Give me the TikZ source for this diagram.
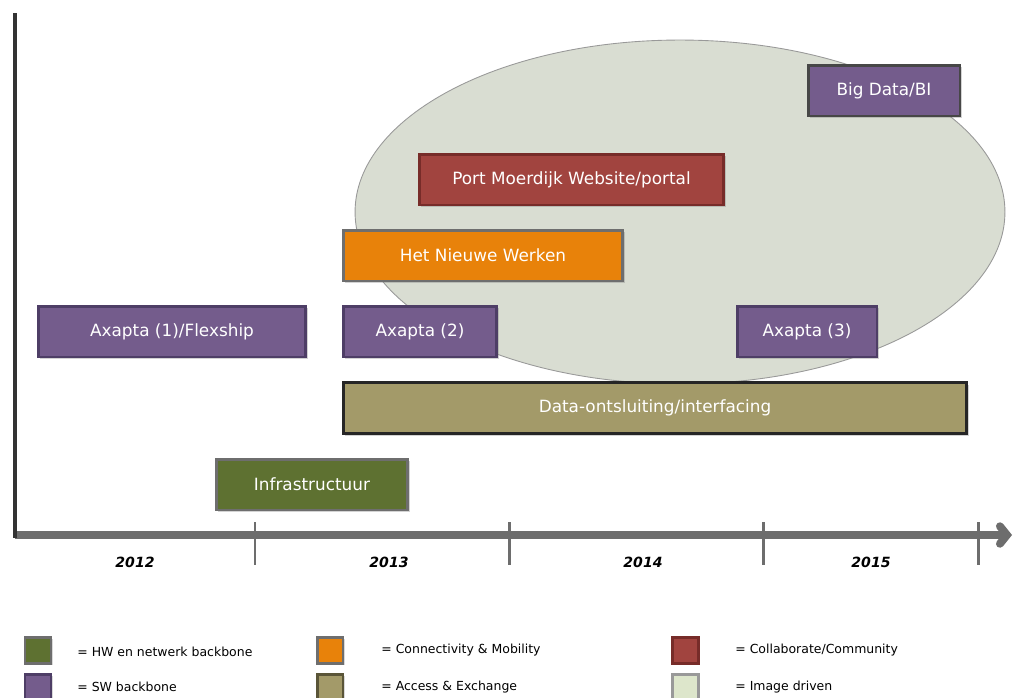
\documentclass[tikz,border=0pt]{standalone}
\usepackage{fontspec}
\setmainfont{DejaVu Sans}
\usepackage{xcolor}
\usepackage{tikz}
\usetikzlibrary{arrows.meta,shadows}
\definecolor{axisdark}{HTML}{333333}
\definecolor{axisgray}{HTML}{6D6D6D}
\definecolor{swfill}{HTML}{745C8C}
\definecolor{swline}{HTML}{4E3E66}
\definecolor{hwfill}{HTML}{5E7131}
\definecolor{conn}{HTML}{E8820A}
\definecolor{collfill}{HTML}{A1443F}
\definecolor{collline}{HTML}{772C29}
\definecolor{accfill}{HTML}{A39A69}
\definecolor{accline}{HTML}{5A5538}
\definecolor{imgfill}{HTML}{DDE6CB}
\definecolor{cloud}{HTML}{D9DDD2}
\definecolor{greyline}{HTML}{6E6E6E}
\tikzset{
  box/.style={rectangle, line width=1.7pt, minimum height=1.02cm, text=white,
    font=\fontsize{9.6}{11}\selectfont,
    drop shadow={shadow xshift=1.2pt, shadow yshift=-1.2pt, opacity=0.35}},
  swbox/.style={box, fill=swfill, draw=swline},
  hwbox/.style={box, fill=hwfill, draw=greyline},
  connbox/.style={box, fill=conn, draw=greyline},
  collbox/.style={box, fill=collfill, draw=collline},
  accbox/.style={box, fill=accfill, draw=black!85},
  key/.style={rectangle, line width=1.7pt, minimum size=0.52cm,
    drop shadow={shadow xshift=1pt, shadow yshift=-1pt, opacity=0.3}},
  keylab/.style={anchor=west, inner sep=0pt, font=\fontsize{7.1}{9}\selectfont},
  year/.style={font=\fontsize{8}{10}\selectfont\bfseries\itshape},
  tickmark/.style={draw=axisgray, line width=1.7pt},
}

\begin{document}
\begin{tikzpicture}[x=0.02cm, y=-0.02cm]
  \useasboundingbox (0,0) rectangle (1017,697);
  % image driven area
  \draw[fill=cloud, draw=gray!80, line width=0.5pt] (680,212) ellipse (6.5cm and 3.44cm);

  % axes
  \coordinate (orig) at (15,535);
  \coordinate (ytop) at (15,13);
  \coordinate (ybot) at (15,538);
  \coordinate (xend) at (1012,535);
  \draw[axisgray, line width=4.5pt, -{Straight Barb[length=4pt,width=10pt,line cap=round]}] (orig) -- (xend);
  \draw[axisdark, line width=2.8pt] (ytop) -- (ybot);
  \foreach \x in {255,509,763,978}
    \draw[tickmark] (\x,522) -- (\x,565);
  \foreach \x/\yr in {135/2012,389/2013,643/2014,871/2015}
    \node[year] (y\yr) at (\x,562) {\yr};

  % projects
  \node[swbox, minimum width=3.04cm, draw=axisdark!90] (bigdata) at (884,90.5) {Big Data/BI};
  \node[collbox, minimum width=6.1cm] (port) at (571.5,179.5) {Port Moerdijk Website/portal};
  \node[connbox, minimum width=5.6cm] (hnw) at (483,255.5) {Het Nieuwe Werken};
  \node[swbox, minimum width=5.36cm] (ax1) at (172,331.5) {Axapta (1)/Flexship};
  \node[swbox, minimum width=3.08cm] (ax2) at (420,331.5) {Axapta (2)};
  \node[swbox, minimum width=2.8cm] (ax3) at (807,331.5) {Axapta (3)};
  \node[accbox, minimum width=12.48cm] (data) at (655,408) {Data-ontsluiting/interfacing};
  \node[hwbox, minimum width=3.84cm] (infra) at (312,484.5) {Infrastructuur};

  % legend
  \node[key, fill=hwfill, draw=greyline] (k1) at (38,650) {};
  \node[keylab] (l1) at (77,652) {= HW en netwerk backbone};
  \node[key, fill=swfill, draw=swline] (k2) at (38,687) {};
  \node[keylab] (l2) at (77,687) {= SW backbone};
  \node[key, fill=conn, draw=greyline] (k3) at (330,650) {};
  \node[keylab] (l3) at (381,650) {= Connectivity \& Mobility};
  \node[key, fill=accfill, draw=accline] (k4) at (330,687) {};
  \node[keylab] (l4) at (381,687) {= Access \& Exchange};
  \node[key, fill=collfill, draw=collline] (k5) at (685,650) {};
  \node[keylab] (l5) at (735,650) {= Collaborate/Community};
  \node[key, fill=imgfill, draw=gray!80] (k6) at (685,687) {};
  \node[keylab] (l6) at (735,687) {= Image driven};
\end{tikzpicture}
\end{document}
